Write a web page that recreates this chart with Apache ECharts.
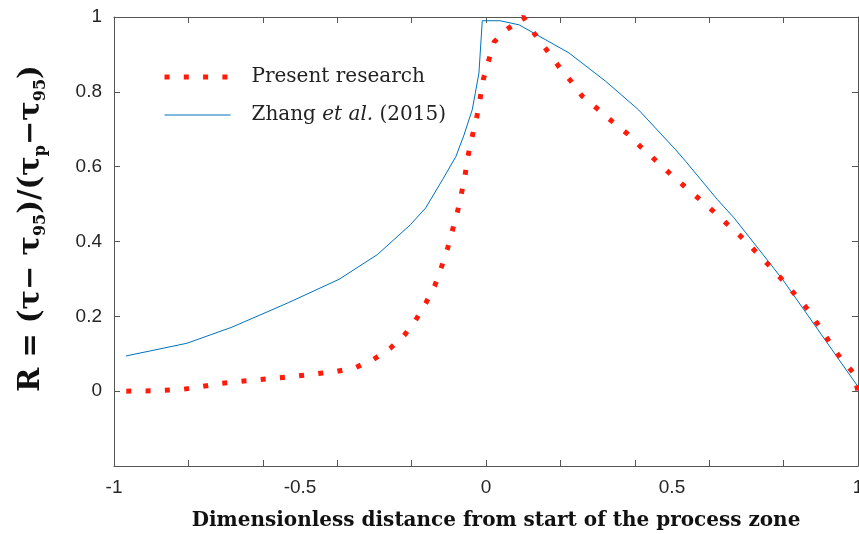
<!DOCTYPE html>
<html>
<head>
<meta charset="utf-8">
<script src="https://cdn.jsdelivr.net/npm/echarts@6/dist/echarts.min.js"></script>
<style>html,body{margin:0;padding:0;background:#fff;overflow:hidden;width:859px;height:534px;}#c{width:859px;height:534px;}</style>
</head>
<body>
<div id="c"></div>
<script>
// Present research (red dotted)
const presentX = [-0.967,-0.9,-0.815,-0.763,-0.712,-0.608,-0.503,-0.40,-0.349,-0.302,-0.258,-0.220,-0.189,-0.162,-0.138,-0.121,-0.104,-0.091,-0.077,-0.066,-0.056,-0.048,-0.037,-0.025,-0.016,-0.007,0.007,0.0215,0.057,0.100,0.132,0.163,0.194,0.228,0.259,0.299,0.339,0.380,0.417,0.456,0.495,0.534,0.573,0.613,0.651,0.690,0.726,0.763,0.798,0.832,0.866,0.895,0.924,0.953,0.987,1.0];
const presentY = [0.0,0.001,0.005,0.0125,0.021,0.031,0.041,0.053,0.064,0.085,0.114,0.149,0.190,0.235,0.281,0.328,0.379,0.427,0.478,0.528,0.579,0.630,0.681,0.731,0.781,0.834,0.883,0.933,0.967,1.0,0.953,0.912,0.870,0.829,0.788,0.755,0.721,0.688,0.652,0.617,0.581,0.547,0.514,0.479,0.444,0.409,0.372,0.334,0.296,0.257,0.217,0.174,0.130,0.088,0.050,0.0];
// Zhang et al. (2015) (blue solid)
const zhangX = [-0.968,-0.804,-0.683,-0.530,-0.395,-0.292,-0.203,-0.162,-0.117,-0.081,-0.059,-0.046,-0.037,-0.019,-0.010,0.038,0.089,0.223,0.322,0.410,0.510,0.537,0.622,0.667,0.797,1.0];
const zhangY = [0.094,0.128,0.171,0.237,0.299,0.365,0.445,0.490,0.565,0.627,0.685,0.725,0.752,0.850,0.990,0.990,0.979,0.904,0.828,0.752,0.645,0.614,0.512,0.463,0.299,0.012];
const xTickLabels = [-1,-0.5,0,0.5,1];
const yTickLabels = [0,0.2,0.4,0.6,0.8,1];
const seriesNames = ['Present research','Zhang et al. (2015)'];

const pair = (xs, ys) => xs.map((x, i) => [x, ys[i]]);
const axisCol = '#555';
const labCol = '#262626';
const sans = 'Liberation Sans';
const serif = 'DejaVu Serif';
const redDots = {color: '#ff1a0a', width: 5, type: [5, 14.3], cap: 'butt'};
const blueLine = {color: '#0072bd', width: 1};

const chart = echarts.init(document.getElementById('c'), null, {renderer: 'canvas', width: 859, height: 534});
chart.setOption({
  animation: false,
  backgroundColor: '#fff',
  grid: {left: 114, right: 1, top: 17, bottom: 68, containLabel: false, outerBoundsMode: 'none'},
  legend: {
    left: 162, top: 67, orient: 'vertical', padding: 0,
    itemWidth: 66, itemHeight: 14, itemGap: 18,
    data: [
      {name: seriesNames[0], lineStyle: redDots, itemStyle: {opacity: 0}},
      {name: seriesNames[1], lineStyle: blueLine, itemStyle: {opacity: 0}}
    ],
    itemStyle: {opacity: 0},
    formatter: function (n) {
      if (n === seriesNames[1]) return '{n|Zhang }{i|et al.}{n| (2015)}';
      return '{n|' + n + '}';
    },
    textStyle: {
      padding: [0, 0, 0, 16],
      rich: {
        n: {fontFamily: serif, fontSize: 20, lineHeight: 20, color: '#222'},
        i: {fontFamily: serif, fontSize: 20, lineHeight: 20, fontStyle: 'italic', color: '#222'}
      }
    }
  },
  xAxis: [
    {type: 'value', position: 'bottom', min: -1, max: 1, interval: 0.2,
     axisLine: {onZero: false, lineStyle: {color: axisCol, width: 1}},
     axisTick: {inside: true, length: 6, lineStyle: {color: axisCol}},
     axisLabel: {show: false}, splitLine: {show: false},
     name: 'Dimensionless distance from start of the process zone',
     nameLocation: 'middle', nameGap: 45,
     nameTextStyle: {fontFamily: serif, fontWeight: 'bold', fontSize: 20, color: '#111', padding: [0, 0, 0, 20]}},
    {type: 'value', position: 'bottom', min: -1, max: 1, interval: 0.5,
     axisLine: {show: false, onZero: false}, axisTick: {show: false}, splitLine: {show: false},
     axisLabel: {show: true, margin: 12, fontFamily: sans, fontSize: 19, color: labCol,
       formatter: v => (xTickLabels.some(t => Math.abs(t - v) < 1e-9) ? String(+v.toFixed(1)) : '')}},
    {type: 'value', position: 'top', min: -1, max: 1, interval: 0.2,
     axisLine: {onZero: false, lineStyle: {color: axisCol, width: 1}},
     axisTick: {inside: true, length: 6, lineStyle: {color: axisCol}},
     axisLabel: {show: false}, splitLine: {show: false}}
  ],
  yAxis: [
    {type: 'value', position: 'left', min: -0.2, max: 1, interval: 0.2,
     axisLine: {show: true, onZero: false, lineStyle: {color: axisCol, width: 1}},
     axisTick: {show: true, inside: true, length: 6, lineStyle: {color: axisCol}},
     splitLine: {show: false},
     axisLabel: {margin: 12, fontFamily: sans, fontSize: 19, color: labCol,
       formatter: v => (yTickLabels.some(t => Math.abs(t - v) < 1e-9) ? String(+v.toFixed(1)) : '')},
     name: '{b|R = (τ− τ}{s|95}{b|)/(τ}{s|p}{b|−τ}{s|95}{b|)}',
     nameLocation: 'middle', nameRotate: 90, nameGap: 65,
     nameTextStyle: {
       padding: [0, 0, 0, 26],
       rich: {
         b: {fontFamily: serif, fontWeight: 'bold', fontSize: 29, color: '#111', lineHeight: 36, verticalAlign: 'middle'},
         s: {fontFamily: serif, fontWeight: 'bold', fontSize: 16, color: '#111', lineHeight: 16, verticalAlign: 'bottom'}
       }
     }},
    {type: 'value', position: 'right', min: -0.2, max: 1, interval: 0.2,
     axisLine: {show: true, onZero: false, lineStyle: {color: axisCol, width: 1}},
     axisTick: {show: true, inside: true, length: 6, lineStyle: {color: axisCol}},
     axisLabel: {show: false}, splitLine: {show: false}}
  ],
  series: [
    {name: seriesNames[0], type: 'line', xAxisIndex: 0, yAxisIndex: 0,
     data: pair(presentX, presentY), showSymbol: false, symbol: 'none', symbolSize: 0,
     lineStyle: redDots, itemStyle: {color: '#ff1a0a'}, z: 3},
    {name: seriesNames[1], type: 'line', xAxisIndex: 0, yAxisIndex: 0,
     data: pair(zhangX, zhangY), showSymbol: false, symbol: 'none', symbolSize: 0,
     lineStyle: blueLine, itemStyle: {color: '#0072bd'}, z: 2}
  ]
});
</script>
</body>
</html>
